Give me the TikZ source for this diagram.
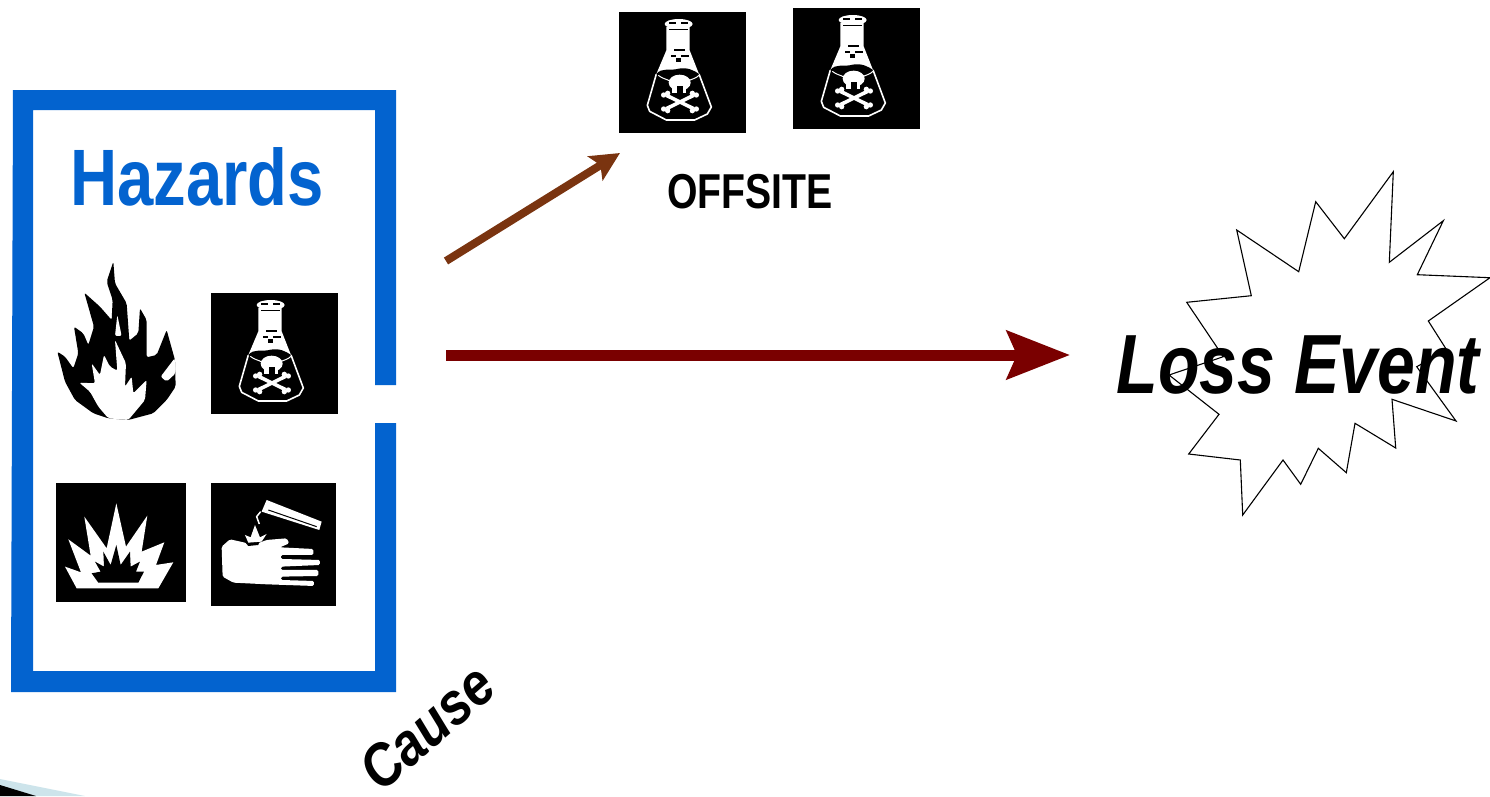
\documentclass[tikz,border=0pt]{standalone}
\usepackage{fontspec}
\setmainfont{Liberation Sans}
\usetikzlibrary{arrows.meta,positioning}

\definecolor{hazardblue}{RGB}{3,99,207}
\definecolor{offsitebrown}{RGB}{122,52,16}
\definecolor{lossred}{RGB}{122,0,0}
\definecolor{cornerblue}{RGB}{205,228,235}

\tikzset{
  iconbox/.style={fill=black,inner sep=0pt,outer sep=0pt},
  label text/.style={inner sep=0pt,outer sep=0pt,anchor=base,font=\bfseries},
  flaskicon/.pic={
    \begin{scope}[x=0.3333pt,y=-0.3333pt]
      % neck and shoulders
      \fill[white] (142,45) -- (212,45) -- (212,115) -- (240,186) -- (112,186) -- (142,115) -- cycle;
      \fill[white] (179,36) ellipse (42 and 15);
      \fill[black] (150,31) rectangle (172,35);
      \fill[black] (186,31) rectangle (208,35);
      \fill[black] (150,50) rectangle (208,52);
      \draw[white,line width=1.6pt,line join=round]
        (112,186) -- (85,280) -- (92,298) -- (142,324) -- (227,324) -- (265,306) -- (277,285) -- (240,186);
      % marks on the glass
      \fill[black] (165,112) rectangle (197,117);
      \fill[black] (155,130) rectangle (170,135);
      \fill[black] (185,130) rectangle (210,135);
      \fill[black] (171,137) rectangle (186,150);
      % liquid
      \fill[black] (112,186) .. controls (130,165) and (150,178) .. (179,170) .. controls (205,165) and (225,175) .. (240,186) -- (230,196) -- (125,196) -- cycle;
      \draw[white,line width=1pt] (118,190) .. controls (130,200) and (140,200) .. (155,208);
      \draw[white,line width=1pt] (240,190) .. controls (230,200) and (220,200) .. (205,208);
      % skull and bones
      \fill[white] (182,212) ellipse (33 and 24);
      \fill[white] (160,220) rectangle (202,244);
      \fill[black] (175,222) rectangle (192,246);
      \draw[white,line width=3.6pt] (142,250) -- (224,290) (224,250) -- (142,290);
      \foreach \bx/\by in {134/249,146/244,232/249,220/244,134/291,146/296,232/291,220/296}
        \fill[white] (\bx,\by) circle (8);
    \end{scope}
  }
}

\begin{document}
\begin{tikzpicture}[x=1pt,y=-1pt,>=Stealth]
  \useasboundingbox (0,0) rectangle (1490,796);

  % blue frame with its gap on the right
  \fill[hazardblue] (396,385) -- (396,90) -- (13,90) -- (11,692) -- (396,692) -- (396,423) -- (375,423)
    -- (375,671) -- (33,671) -- (33,110) -- (375,110) -- (375,385) -- cycle;

  \node[label text,text=hazardblue,xscale=.815] (hazards) at (197,205) {\fontsize{80}{80}\selectfont Hazards};

  \node[iconbox,minimum width=127pt,minimum height=121pt] (toxic) at (274.5,353.5) {};
  \node[iconbox,minimum width=130pt,minimum height=119pt] (explosion) at (121,542.5) {};
  \node[iconbox,minimum width=125pt,minimum height=123pt,yshift=-2pt] (corrosive) [right=25pt of explosion] {};
  \node[iconbox,minimum width=127pt,minimum height=121pt] (flaskone) at (682.5,72.5) {};
  \node[iconbox,minimum width=127pt,minimum height=121pt,yshift=4pt] (flasktwo) [right=47pt of flaskone] {};

  \pic at (toxic.north west) {flaskicon};
  \pic at (flaskone.north west) {flaskicon};
  \pic at (flasktwo.north west) {flaskicon};

  % flame
  \begin{scope}[shift={(0,250)},x=0.3333pt,y=-0.3333pt,rounded corners=2pt]
    \fill[black] (325,505) -- (280,490) -- (225,450) -- (195,395) -- (172,305) -- (195,320) -- (220,355) -- (235,310)
      -- (222,230) -- (250,250) -- (265,285) -- (282,230) -- (253,128) -- (300,170) -- (335,210) -- (338,150) -- (320,95)
      -- (340,35) -- (345,100) -- (380,160) -- (388,272) -- (415,250) -- (420,175) -- (440,210) -- (440,322) -- (470,315)
      -- (500,240) -- (525,330) -- (527,410) -- (500,450) -- (460,490) -- (385,510) -- cycle;
    \fill[white] (325,505) -- (295,470) -- (270,425) -- (238,398) -- (285,400) -- (275,340) -- (300,375) -- (312,315)
      -- (330,350) -- (352,362) -- (345,270) -- (378,340) -- (375,410) -- (395,380) -- (400,430) -- (440,390) -- (435,450)
      -- (385,510) -- cycle;
    \fill[white] (352,195) -- (365,258) -- (345,258) -- cycle;
    \fill[white] (524,325) -- (482,380) -- (500,395) -- (527,370) -- cycle;
  \end{scope}

  % explosion
  \begin{scope}[shift={(0,250)},x=0.3333pt,y=-0.3333pt]
    \fill[white] (230,1015) -- (195,950) -- (243,967) -- (205,868) -- (272,917) -- (253,800) -- (320,895) -- (349,760)
      -- (378,890) -- (442,797) -- (425,905) -- (493,877) -- (468,945) -- (520,937) -- (475,1015) -- cycle;
    \fill[black] (295,998) -- (275,970) -- (302,965) -- (285,935) -- (312,950) -- (310,905) -- (332,945) -- (349,885)
      -- (362,945) -- (390,905) -- (392,950) -- (420,935) -- (408,965) -- (432,965) -- (415,998) -- cycle;
  \end{scope}

  % hand and test tube
  \begin{scope}[shift={(0,250)},x=0.3333pt,y=-0.3333pt]
    \fill[white,rounded corners=1.5pt] (665,890) -- (690,868) -- (735,878) -- (760,885) -- (800,870) -- (860,865) -- (868,880) -- (840,892)
      -- (940,897) -- (940,915) -- (843,915) -- (843,927) -- (960,930) -- (960,945) -- (843,950) -- (843,960) -- (955,960)
      -- (955,978) -- (843,980) -- (843,990) -- (942,993) -- (942,1008) -- (800,1003) -- (700,998) -- (668,980) -- cycle;
    \fill[black] (730,870) -- (780,870) -- (775,885) -- (745,888) -- cycle;
    \fill[white] (735,855) -- (752,862) -- (765,825) -- (780,862) -- (800,852) -- (785,875) -- (745,878) -- cycle;
    \fill[white] (800,750) -- (965,815) -- (958,840) -- (785,785) -- cycle;
    \draw[black,line width=1pt] (805,780) -- (950,830);
    \draw[white,line width=1.5pt] (782,785) -- (770,800) -- (778,822);
  \end{scope}

  \node[label text,xscale=.8] (offsite) at (750,208) {\fontsize{49}{49}\selectfont OFFSITE};

  % burst behind the words
  \draw[black,line width=1.1pt,line join=miter] (1393.3,171.7) -- (1389.3,262.3) -- (1443.3,220.7) -- (1417.3,274.7)
    -- (1490,277.7) -- (1428.3,321) -- (1446.7,350) -- (1416.7,366.7) -- (1456,421) -- (1392,399.3) -- (1395.7,448)
    -- (1355,423.3) -- (1346.3,472.7) -- (1318.3,448.3) -- (1300.7,484.3) -- (1283,460) -- (1242.7,515) -- (1240.3,460)
    -- (1188.7,454) -- (1219,414.3) -- (1169,375) -- (1223.3,356.7) -- (1186.7,302.3) -- (1251.3,295.7) -- (1236.7,230)
    -- (1298.7,271.7) -- (1315.7,201.7) -- (1344.3,238.7) -- cycle;
  \node[label text,xscale=.81] (loss) at (1298,393) {\fontsize{84}{84}\selectfont\itshape Loss Event};

  \node[inner sep=0pt,rotate=41,yscale=1.15,font=\bfseries\itshape] (cause) at (427,727) {\fontsize{52}{52}\selectfont Cause};

  % piece of a shape cut off by the corner
  \fill[cornerblue] (0,779) -- (85,796) -- (0,796) -- cycle;
  \fill[black] (0,785) -- (36,796) -- (0,796) -- cycle;

  \coordinate (upstart) at (446,261);
  \coordinate (uptip) at (620,153);
  \coordinate (midstart) at (446,355);
  \coordinate (midtip) at (1070,355);

  \path[->]
    (upstart) edge [offsitebrown,line width=8pt,-{Stealth[length=29pt,width=28pt,inset=6pt]}] (uptip)
    (midstart) edge [lossred,line width=11pt,-{Stealth[length=63pt,width=48pt,inset=10pt]}] (midtip);

\end{tikzpicture}
\end{document}
